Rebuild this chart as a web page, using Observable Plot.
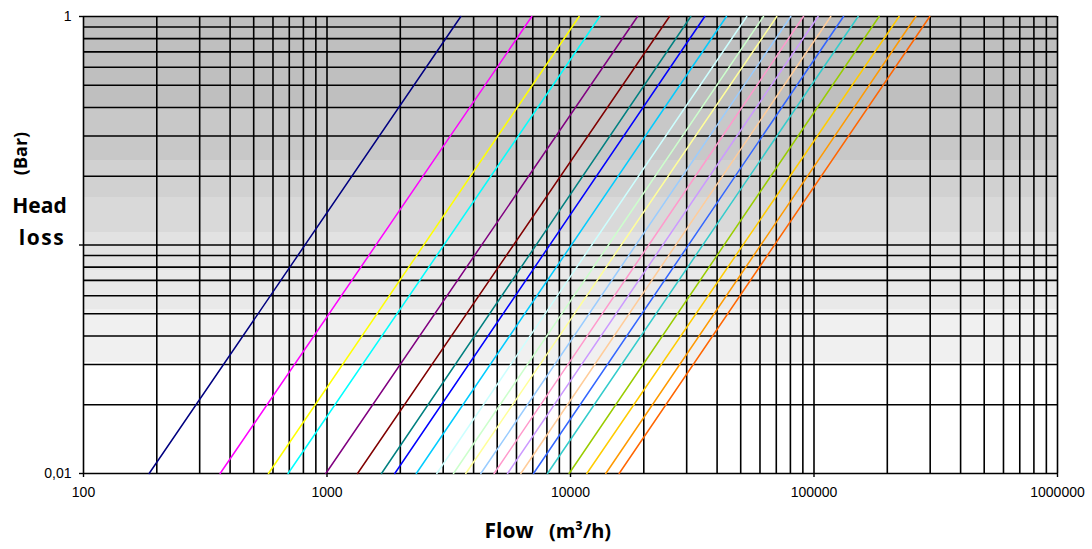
<!DOCTYPE html>
<html>
<head>
<meta charset="utf-8">
<script src="https://cdn.jsdelivr.net/npm/d3@7"></script>
<script src="https://cdn.jsdelivr.net/npm/@observablehq/plot@0.6"></script>
<style>
  html, body { margin: 0; padding: 0; background: #fff; }
  #chart { width: 1092px; height: 549px; }
</style>
</head>
<body>
<div id="chart"></div>
<script>
// ---- Data ----
const seriesIds = ["S1","S2","S3","S4","S5","S6","S7","S8","S9","S10","S11","S12","S13","S14","S15","S16","S17","S18","S19","S20","S21","S22"];
// Flow (m³/h) where each curve meets head loss 0.01 bar
const flowAtLowLoss = [186, 364, 575, 692, 989, 1335, 1674, 1898, 2327, 2824, 3307, 3715, 4282, 4856, 5512, 6251, 7047, 8044, 9870, 11670, 13960, 15840];
// Flow (m³/h) where each curve meets head loss 1 bar
const flowAtHighLoss = [3544, 6935, 10850, 13190, 18850, 25500, 31190, 35600, 43700, 52970, 62030, 70340, 80300, 90530, 103940, 117200, 132200, 151800, 185100, 223600, 261900, 298900];
const lossLow = 0.01;
const lossHigh = 1;

// Axis ticks and labels
const xDecades = [100, 1000, 10000, 100000, 1000000];
const xTickLabels = ["100", "1000", "10000", "100000", "1000000"];
const yTicks = [0.01, 0.1, 1];
const yTickLabels = ["0,01", "", "1"];
const gridMultiples = [1, 2, 3, 4, 5, 6, 7, 8, 9];

// Excel-style series palette
const palette = ["#000080","#FF00FF","#FFFF00","#00FFFF","#800080","#800000","#008080","#0000FF","#00CCFF","#CCFFFF","#CCFFCC","#FFFF99","#99CCFF","#FF99CC","#CC99FF","#FFCC99","#3366FF","#33CCCC","#99CC00","#FFCC00","#FF9900","#FF6600"];

// ---- Build tables ----
const lineData = seriesIds.flatMap((id, i) => [
  {series: id, flow: flowAtLowLoss[i], loss: lossLow},
  {series: id, flow: flowAtHighLoss[i], loss: lossHigh}
]);
const xGrid = xDecades.slice(0, -1).flatMap(d => gridMultiples.map(m => d * m)).concat([xDecades[xDecades.length - 1]]);
const yGrid = [0.01, 0.1].flatMap(d => gridMultiples.map(m => +(d * m).toPrecision(3))).concat([1]);

const gridStyle = {stroke: "#000", strokeOpacity: 1, strokeWidth: 1.6};

const chart = Plot.plot({
  width: 1092,
  height: 549,
  marginLeft: 83,
  marginRight: 35,
  marginTop: 16,
  marginBottom: 76,
  style: {fontFamily: "'Liberation Sans', Arial, sans-serif", fontSize: "14px", background: "#fff", overflow: "visible"},
  x: {type: "log", domain: [100, 1000000]},
  y: {type: "log", domain: [0.01, 1]},
  color: {domain: seriesIds, range: palette},
  marks: [
    Plot.frame({fill: "url(#bgGrad)", stroke: "none"}),
    Plot.gridX(xGrid, gridStyle),
    Plot.gridY(yGrid, gridStyle),
    Plot.line(lineData, {x: "flow", y: "loss", z: "series", stroke: "series", strokeWidth: 1.5}),
    Plot.axisX(xDecades, {tickSize: 4, tickPadding: 10, fontSize: 14, stroke: "#000", strokeWidth: 1.4,
      tickFormat: d => xTickLabels[xDecades.indexOf(d)], label: null, color: "#000"}),
    Plot.axisY(yTicks, {tickSize: 4, tickPadding: 8, fontSize: 14, stroke: "#000", strokeWidth: 1.4,
      tickFormat: d => yTickLabels[yTicks.indexOf(d)], label: null, color: "#000"})
  ]
});

const svg = d3.select(chart);
// Make sure tick labels use the intended size
svg.selectAll("text").style("font-size", "14px").style("font-family", "'Liberation Sans', Arial, sans-serif");

// Gradient background (banded like the original)
const bands = [
  [0.000, 0.201, "#bfbfbf"],
  [0.201, 0.315, "#c8c8c8"],
  [0.315, 0.396, "#d1d1d1"],
  [0.396, 0.472, "#d9d9d9"],
  [0.472, 0.555, "#e2e2e2"],
  [0.555, 0.639, "#e9e9e9"],
  [0.639, 0.757, "#f0f0f0"],
  [0.757, 1.000, "#ffffff"]
];
const grad = svg.insert("defs", ":first-child").append("linearGradient")
  .attr("id", "bgGrad").attr("x1", 0).attr("y1", 0).attr("x2", 0).attr("y2", 1);
bands.forEach(([a, b, c]) => {
  grad.append("stop").attr("offset", a).attr("stop-color", c);
  grad.append("stop").attr("offset", b).attr("stop-color", c);
});

// Axis titles
const titleFont = "'Open Sans', 'DejaVu Sans', sans-serif";
svg.append("text").text("(Bar)")
  .attr("transform", "translate(27,153.5) rotate(-90)")
  .attr("text-anchor", "middle")
  .attr("font-family", titleFont).attr("font-weight", 700).attr("font-size", 18).attr("fill", "#000");
svg.append("text").text("Head")
  .attr("x", 39.5).attr("y", 213).attr("text-anchor", "middle")
  .attr("font-family", titleFont).attr("font-weight", 700).attr("font-size", 21).attr("fill", "#000");
svg.append("text").text("loss")
  .attr("x", 42).attr("y", 245).attr("text-anchor", "middle").attr("letter-spacing", 1.5)
  .attr("font-family", titleFont).attr("font-weight", 700).attr("font-size", 21).attr("fill", "#000");
svg.append("text").text("Flow")
  .attr("x", 509).attr("y", 538)
  .attr("font-family", titleFont).attr("font-weight", 700).attr("font-size", 21).attr("fill", "#000");
svg.append("text").text("(m³/h)")
  .attr("x", 580).attr("y", 538)
  .attr("font-family", titleFont).attr("font-weight", 700).attr("font-size", 20).attr("fill", "#000");

document.getElementById("chart").appendChild(chart);
</script>
</body>
</html>
